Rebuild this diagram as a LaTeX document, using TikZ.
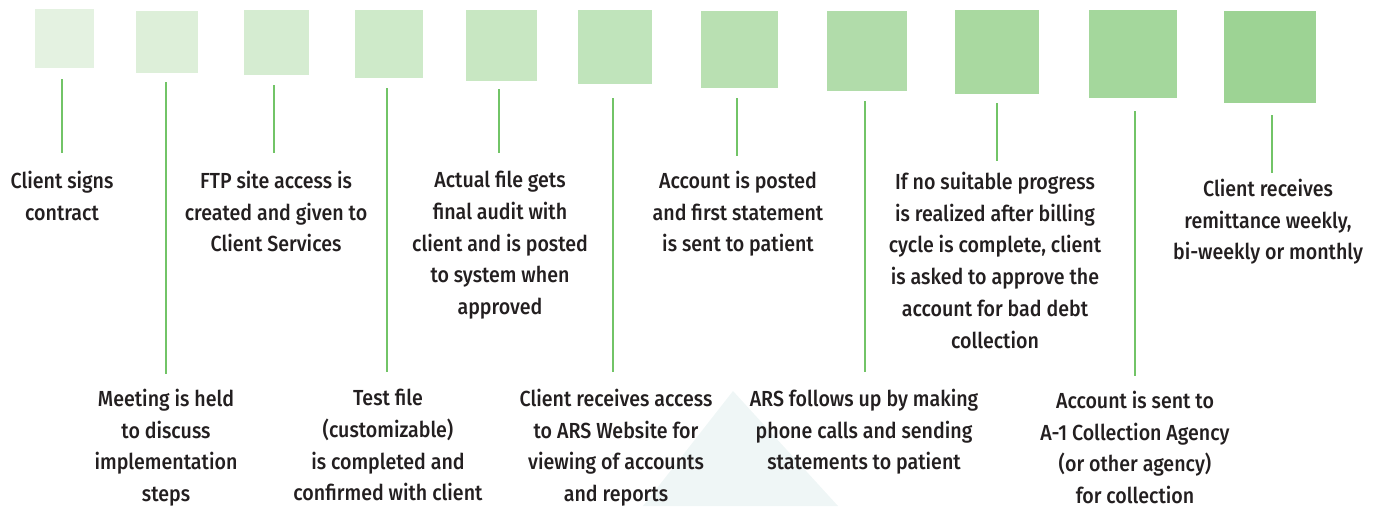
\documentclass[tikz,border=0pt]{standalone}
\usepackage{fontspec}
\setmainfont{Fira Sans Medium}[FakeStretch=0.9]
\definecolor{txt}{HTML}{231F20}
\definecolor{ln}{HTML}{72C467}
\definecolor{tri}{HTML}{EFF6F6}
\definecolor{q1}{HTML}{E4F2E1}
\definecolor{q2}{HTML}{DDEFD9}
\definecolor{q3}{HTML}{D5ECD1}
\definecolor{q4}{HTML}{CEEAC9}
\definecolor{q5}{HTML}{C8E7C2}
\definecolor{q6}{HTML}{C0E4BB}
\definecolor{q7}{HTML}{B9E0B2}
\definecolor{q8}{HTML}{B1DCAA}
\definecolor{q9}{HTML}{A9D9A0}
\definecolor{q10}{HTML}{A4D79C}
\definecolor{q11}{HTML}{9DD394}
\begin{document}
\begin{tikzpicture}[x=1pt,y=-1pt,
  sq/.style={draw=none,inner sep=0pt,minimum width=#1pt,minimum height=#1pt},
  lab/.style={anchor=north,inner sep=0pt,align=center,text=txt,
    font=\fontsize{21.8}{31.7}\selectfont},
  conn/.style={draw=ln,line width=1.6pt}]
\useasboundingbox (0,0) rectangle (1380,506);
\fill[tri] (733,391) -- (838,506) -- (643,506) -- cycle;
% squares
\node[sq=59,fill=q1] (s1) at (64.5,38.5) {};
\node[sq=62,fill=q2] (s2) at (167,42) {};
\node[sq=65,fill=q3] (s3) at (276.5,42.5) {};
\node[sq=68,fill=q4] (s4) at (389,44) {};
\node[sq=71,fill=q5] (s5) at (501.5,45.5) {};
\node[sq=74,fill=q6] (s6) at (615,47) {};
\node[sq=77,fill=q7] (s7) at (739.5,49.5) {};
\node[sq=80,fill=q8] (s8) at (867,51) {};
\node[sq=84,fill=q9] (s9) at (997,52) {};
\node[sq=88,fill=q10] (s10) at (1133,54) {};
\node[sq=92,fill=q11] (s11) at (1270,57) {};
% labels
\node[lab] (t1) at (62,171) {Client signs\\contract};
\node[lab] (t2) at (166,389) {Meeting is held\\to discuss\\implementation\\steps};
\node[lab] (t3) at (276,171) {FTP site access is\\created and given to\\Client Services};
\node[lab] (t4) at (388,389) {Test file\\(customizable)\\is completed and\\confirmed with client};
\node[lab] (t5) at (500,171) {Actual file gets\\final audit with\\client and is posted\\to system when\\approved};
\node[lab] (t6) at (616,389) {Client receives access\\to ARS Website for\\viewing of accounts\\and reports};
\node[lab] (t7) at (738,171) {Account is posted\\and first statement\\is sent to patient};
\node[lab] (t8) at (864,389) {ARS follows up by making\\phone calls and sending\\statements to patient};
\node[lab] (t9) at (995,172) {If no suitable progress\\is realized after billing\\cycle is complete, client\\is asked to approve the\\account for bad debt\\collection};
\node[lab] (t10) at (1135,391) {Account is sent to\\A-1 Collection Agency\\(or other agency)\\for collection};
\node[lab] (t11) at (1268,179) {Client receives\\remittance weekly,\\bi-weekly or monthly};
% connector ends
\coordinate (a1) at (62,79);   \coordinate (b1) at (62,153);
\coordinate (a2) at (166,82);  \coordinate (b2) at (166,374);
\coordinate (a3) at (274,85);  \coordinate (b3) at (274,153);
\coordinate (a4) at (387,88);  \coordinate (b4) at (387,372);
\coordinate (a5) at (499,89);  \coordinate (b5) at (499,153);
\coordinate (a6) at (613,98);  \coordinate (b6) at (613,372);
\coordinate (a7) at (737,98);  \coordinate (b7) at (737,156);
\coordinate (a8) at (865,101); \coordinate (b8) at (865,372);
\coordinate (a9) at (997,103); \coordinate (b9) at (997,161);
\coordinate (a10) at (1135,111); \coordinate (b10) at (1135,376);
\coordinate (a11) at (1272,115); \coordinate (b11) at (1272,173);
\foreach \i in {1,...,11} \draw[conn] (a\i) -- (b\i);
\end{tikzpicture}
\end{document}
